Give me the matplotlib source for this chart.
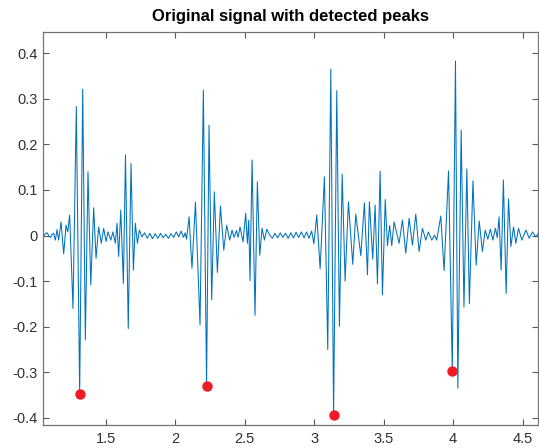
import matplotlib
matplotlib.use("Agg")
import matplotlib.pyplot as plt
import numpy as np
from matplotlib.ticker import FuncFormatter

plt.rcParams["font.family"] = ["Liberation Sans", "DejaVu Sans"]
plt.rcParams["axes.unicode_minus"] = False

# ---------------------------------------------------------------
# Signal extrema (time in s, amplitude)
# ---------------------------------------------------------------
beat1_t = [1.048, 1.062, 1.077, 1.090, 1.101, 1.112, 1.123, 1.135, 1.147, 1.159,
           1.176, 1.195, 1.212, 1.224, 1.238, 1.262, 1.286, 1.310, 1.332, 1.351,
           1.370, 1.390, 1.411, 1.428, 1.447, 1.466, 1.483, 1.500, 1.514, 1.534,
           1.550, 1.567, 1.579, 1.591, 1.606, 1.625, 1.640, 1.660, 1.680, 1.697,
           1.711, 1.726, 1.740, 1.759]
beat1_v = [-0.003, 0.004, 0.006, -0.002, -0.004, 0.003, 0.005, -0.010, 0.013, -0.010,
           0.030, -0.040, 0.023, 0.008, 0.045, -0.160, 0.283, -0.347, 0.321, -0.229,
           0.140, -0.108, 0.061, -0.050, 0.019, -0.017, 0.016, -0.013, 0.008, -0.010,
           0.008, -0.017, 0.027, -0.046, 0.056, -0.105, 0.177, -0.204, 0.158, -0.076,
           0.027, -0.017, 0.012, -0.003]

quiet1_t = [1.778, 1.797, 1.816, 1.835, 1.854, 1.873, 1.892, 1.911, 1.930, 1.949,
            1.968, 1.987, 2.006, 2.024, 2.040, 2.058, 2.070, 2.080]
quiet1_v = [0.006, -0.006, 0.005, -0.007, 0.004, -0.006, 0.005, -0.005, 0.003, -0.006,
            0.004, -0.004, 0.008, -0.003, 0.010, -0.004, 0.006, -0.008]

beat2_t = [2.098, 2.119, 2.144, 2.177, 2.201, 2.224, 2.242, 2.261, 2.280, 2.302,
           2.324, 2.348, 2.369, 2.391, 2.408, 2.422, 2.439, 2.451, 2.465, 2.487,
           2.506, 2.518, 2.528, 2.537, 2.552, 2.573, 2.590, 2.607, 2.624, 2.641,
           2.658, 2.679]
beat2_v = [0.041, -0.072, 0.073, -0.196, 0.319, -0.329, 0.242, -0.141, 0.096, -0.081,
           0.065, -0.032, 0.023, -0.010, 0.012, -0.004, 0.011, -0.004, 0.019, -0.014,
           0.049, -0.017, 0.034, -0.099, 0.166, -0.175, 0.118, -0.043, 0.016, -0.010,
           0.014, 0.001]

quiet2_t = [2.698, 2.717, 2.736, 2.755, 2.774, 2.793, 2.812, 2.831, 2.850, 2.869,
            2.888, 2.907, 2.926, 2.944, 2.962, 2.981, 2.997]
quiet2_v = [-0.006, 0.005, -0.005, 0.006, -0.004, 0.005, -0.006, 0.006, -0.005, 0.007,
            -0.004, 0.008, -0.005, 0.008, -0.006, 0.010, -0.018]

beat3_t = [3.018, 3.042, 3.073, 3.097, 3.119, 3.139, 3.162, 3.181, 3.201, 3.222,
           3.246, 3.277, 3.299, 3.335, 3.361, 3.383, 3.397, 3.421, 3.438, 3.455,
           3.474, 3.491, 3.511, 3.527, 3.543, 3.558, 3.575]
beat3_v = [0.045, -0.073, 0.129, -0.250, 0.365, -0.393, 0.318, -0.199, 0.135, -0.100,
           0.074, -0.063, 0.047, -0.044, 0.072, -0.086, 0.074, -0.052, 0.067, -0.106,
           0.141, -0.130, 0.079, -0.022, 0.022, -0.022, 0.030]

beat4_t = [3.611, 3.635, 3.659, 3.683, 3.707, 3.731, 3.755, 3.779, 3.803, 3.822,
           3.846, 3.866, 3.882, 3.911, 3.935, 3.967, 3.994, 4.017, 4.034, 4.058,
           4.078, 4.099, 4.117, 4.143, 4.166, 4.188, 4.211, 4.231, 4.250, 4.268,
           4.286, 4.305, 4.318, 4.331, 4.346, 4.362, 4.382, 4.399, 4.416, 4.435,
           4.452, 4.471, 4.495, 4.524, 4.548, 4.572, 4.595, 4.612]
beat4_v = [-0.017, 0.034, -0.039, 0.038, -0.021, 0.047, -0.035, 0.016, -0.010, 0.008,
           -0.010, 0.001, -0.010, 0.043, -0.077, 0.142, -0.297, 0.383, -0.335, 0.231,
           -0.157, 0.146, -0.149, 0.120, -0.065, 0.032, -0.035, 0.012, -0.008, 0.014,
           -0.010, 0.016, -0.005, 0.041, -0.076, 0.122, -0.127, 0.080, -0.024, 0.019,
           -0.017, 0.016, -0.010, 0.012, -0.006, 0.008, -0.003, 0.004]

# detected peaks (red dots)
peak_t = [1.310, 2.224, 3.139, 3.994]
peak_v = [-0.347, -0.329, -0.393, -0.297]

x_ticks = [1.5, 2, 2.5, 3, 3.5, 4, 4.5]
y_ticks = [-0.4, -0.3, -0.2, -0.1, 0, 0.1, 0.2, 0.3, 0.4]

t = np.concatenate([beat1_t, quiet1_t, beat2_t, quiet2_t, beat3_t, beat4_t])
v = np.concatenate([beat1_v, quiet1_v, beat2_v, quiet2_v, beat3_v, beat4_v])

# ---------------------------------------------------------------
# Plot
# ---------------------------------------------------------------
fig = plt.figure(figsize=(5.39, 4.48), dpi=100)
ax = fig.add_axes([0.0803, 0.0513, 0.918, 0.877])

ax.plot(t, v, color="#0072BD", linewidth=0.75)
ax.plot(peak_t, peak_v, "o", color="#ee1c24", markersize=7.5, markeredgecolor="none")

ax.set_xlim(1.048, 4.612)
ax.set_ylim(-0.4156, 0.4463)
ax.set_xticks(x_ticks)
ax.set_yticks(y_ticks)
ax.xaxis.set_major_formatter(FuncFormatter(lambda x, pos: "%g" % x))
ax.yaxis.set_major_formatter(FuncFormatter(lambda y, pos: "%g" % round(y, 2)))

ax.tick_params(direction="in", top=True, right=True, length=4, width=0.8,
               color="0.35", labelcolor="#303030", labelsize=10.5)
ax.tick_params(axis="x", pad=5)
ax.tick_params(axis="y", pad=4)
for s in ax.spines.values():
    s.set_color("0.45")
    s.set_linewidth(0.9)

ax.set_title("Original signal with detected peaks", fontsize=12,
             fontweight="bold", pad=8)

fig.savefig("out.png", dpi=100)
